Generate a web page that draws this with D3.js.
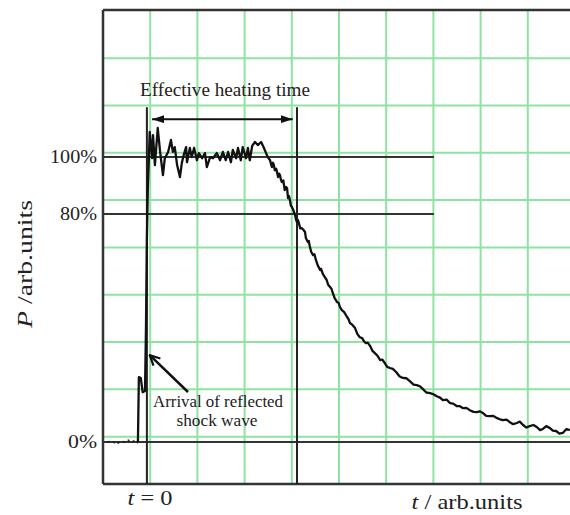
<!DOCTYPE html>
<html>
<head>
<meta charset="utf-8">
<script src="https://cdnjs.cloudflare.com/ajax/libs/d3/7.8.5/d3.min.js"></script>
<style>
  body { margin: 0; background: #fff; }
  text { font-family: "Liberation Serif", "DejaVu Serif", serif; fill: #222; }
</style>
</head>
<body>
<div id="chart"></div>
<script>
// pressure trace: t in arb. units (t = 0 at shock arrival), P in %
var preTime = [-0.85, -0.74, -0.64, -0.55, -0.47, -0.40, -0.34, -0.28, -0.21, -0.19];
var preP = [0, 0.4, -0.7, 0.4, 0, 0.7, -0.4, 0.4, -0.4, 0];

var traceTime = [-0.19, -0.17, -0.13, -0.09, -0.04, -0.02, 0, 0.02, 0.06,
  0.11, 0.13, 0.17, 0.23, 0.28, 0.34, 0.38, 0.45, 0.51, 0.55, 0.59, 0.64, 0.70, 0.74, 0.78, 0.83, 0.85,
  0.91, 0.95, 1.00, 1.06, 1.10, 1.17, 1.23, 1.27, 1.34, 1.40, 1.48, 1.55, 1.61, 1.67, 1.72, 1.78, 1.82,
  1.89, 1.93, 1.99, 2.03, 2.10, 2.14, 2.18, 2.23, 2.29, 2.35, 2.42, 2.48, 2.56,
  2.61, 2.63, 2.65, 2.67, 2.69, 2.71, 2.74, 2.78, 2.80, 2.82, 2.84, 2.86, 2.89, 2.92, 2.95, 2.97, 2.99,
  3.01, 3.03, 3.05, 3.07, 3.10, 3.14, 3.16, 3.18, 3.20, 3.22, 3.25, 3.28, 3.31, 3.35, 3.37, 3.41, 3.43,
  3.45, 3.48, 3.52, 3.55, 3.58, 3.62, 3.67, 3.69, 3.73, 3.77, 3.81, 3.84, 3.88, 3.91, 3.94, 3.98, 4.03,
  4.06, 4.09, 4.13, 4.18, 4.24, 4.27, 4.30, 4.35, 4.41, 4.46, 4.51, 4.56, 4.60, 4.64, 4.68, 4.73, 4.78,
  4.83, 4.88, 4.94, 4.99, 5.04, 5.09, 5.15, 5.21, 5.28, 5.35, 5.42, 5.50, 5.57, 5.65, 5.72, 5.78, 5.85,
  5.92, 6.00, 6.07, 6.14, 6.21, 6.27, 6.35, 6.42, 6.49, 6.57, 6.63, 6.70, 6.77, 6.84, 6.92, 6.99, 7.05,
  7.12, 7.19, 7.27, 7.34, 7.42, 7.48, 7.54, 7.62, 7.69, 7.76, 7.84, 7.90, 7.97, 8.04, 8.11, 8.19, 8.26,
  8.33, 8.39, 8.46, 8.54, 8.60, 8.67, 8.74, 8.81, 8.89, 8.96];
var traceP = [0, 22.8, 22.5, 17.5, 17.9, 39.3, 70.9, 89.1, 108.8,
  99.6, 107.7, 97.2, 110.2, 101.8, 93.7, 99.6, 101.8, 106.0, 101.8, 103.5, 97.2, 93.0, 97.9, 100.7, 103.5, 98.2,
  103.2, 100.0, 103.2, 98.9, 101.4, 99.6, 101.4, 96.5, 100.0, 99.6, 101.4, 98.9, 101.8, 98.9, 101.8, 98.2, 102.5,
  99.6, 103.2, 98.9, 103.5, 99.6, 103.2, 98.9, 103.9, 105.3, 104.2, 105.3, 103.2, 100.0,
  98.9, 97.5, 96.5, 98.0, 97.2, 95.4, 95.9, 93.0, 94.2, 93.7, 92.0, 91.2, 91.8, 88.4, 89.5, 89.1, 85.6,
  86.3, 84.9, 83.0, 82.5, 81.5, 79.6, 78.0, 77.2, 77.9, 76.8, 75.0, 75.1, 74.6, 73.7, 71.5, 70.2, 70.6,
  68.8, 66.8, 65.6, 65.9, 63.9, 62.0, 60.4, 60.8, 58.9, 57.9, 56.8, 55.2, 54.4, 53.8, 52.3, 50.4, 49.1,
  48.9, 47.4, 46.3, 45.6, 43.9, 43.2, 41.8, 41.2, 40.0, 37.9, 36.8, 36.5, 35.4, 34.7, 34.9, 33.7, 32.0,
  31.2, 30.4, 28.8, 28.9, 27.7, 26.4, 26.0, 25.7, 24.6, 23.1, 22.5, 22.4, 21.4, 20.2, 20.0, 19.6, 18.6,
  17.4, 17.2, 16.8, 16.1, 15.6, 14.7, 14.9, 13.7, 13.5, 12.6, 12.6, 11.9, 12.0, 11.2, 10.6, 10.5, 10.8,
  10.2, 9.2, 9.1, 9.2, 8.4, 8.0, 7.7, 7.9, 7.0, 6.3, 6.7, 7.2, 6.0, 5.1, 5.6, 6.0, 5.3,
  4.2, 4.6, 5.6, 4.9, 4.0, 3.9, 3.0, 3.2, 4.6, 4.2];

// green paper grid
var gridTime = [0.07, 1.07, 2.07, 3.07, 4.07, 5.07, 6.07, 7.07, 8.07];
var gridP = [134.7, 118.1, 101.5, 84.9, 68.3, 51.7, 35.1, 18.5, 1.9];

// black reference levels
var levelP = [100, 80, 0];
var levelLabels = ["100%", "80%", "0%"];
var levelEnd = [6.08, 6.08, 9.07];

// heating window
var heatStart = 0, heatEnd = 3.18;

var width = 570,
  height = 515;

var svg = d3.select("#chart").append("svg")
  .attr("width", width)
  .attr("height", height);

var x = d3.scaleLinear().domain([-0.93, 9.07]).range([103, 575]);
var y = d3.scaleLinear().domain([-14.7, 151.6]).range([484, 10]);

var defs = svg.append("defs");
defs.append("marker")
  .attr("id", "solidHead")
  .attr("viewBox", "0 0 12 8")
  .attr("refX", 12).attr("refY", 4)
  .attr("markerWidth", 12).attr("markerHeight", 8)
  .attr("markerUnits", "userSpaceOnUse")
  .attr("orient", "auto-start-reverse")
  .append("path")
  .attr("d", "M0,0 L12,4 L0,8 Z")
  .attr("fill", "#111");
defs.append("marker")
  .attr("id", "openHead")
  .attr("viewBox", "0 0 12 12")
  .attr("refX", 11).attr("refY", 6)
  .attr("markerWidth", 12).attr("markerHeight", 12)
  .attr("markerUnits", "userSpaceOnUse")
  .attr("orient", "auto")
  .append("path")
  .attr("d", "M1,1 L11,6 L1,11")
  .attr("fill", "none")
  .attr("stroke", "#111")
  .attr("stroke-width", 2.2);

// grid
svg.append("g").selectAll("line")
  .data(gridTime)
  .enter().append("line")
  .attr("x1", d => x(d)).attr("x2", d => x(d))
  .attr("y1", y(151.6)).attr("y2", y(-14.7))
  .attr("stroke", "#8fe3a2")
  .attr("stroke-width", 2);
svg.append("g").selectAll("line")
  .data(gridP)
  .enter().append("line")
  .attr("x1", x(-0.93)).attr("x2", width)
  .attr("y1", d => y(d)).attr("y2", d => y(d))
  .attr("stroke", "#8fe3a2")
  .attr("stroke-width", 2);

// frame (left, top, bottom)
var frame = svg.append("g").attr("stroke", "#333").attr("stroke-width", 2.5);
frame.append("line").attr("x1", x(-0.93)).attr("x2", x(-0.93)).attr("y1", y(151.6)).attr("y2", y(-14.7));
frame.append("line").attr("x1", x(-0.93)).attr("x2", width).attr("y1", y(151.6)).attr("y2", y(151.6));
frame.append("line").attr("x1", x(-0.93)).attr("x2", width).attr("y1", y(-14.7)).attr("y2", y(-14.7));

// level lines + labels
svg.append("g").selectAll("line")
  .data(levelP)
  .enter().append("line")
  .attr("x1", x(-0.93))
  .attr("x2", (d, i) => x(levelEnd[i]))
  .attr("y1", d => y(d)).attr("y2", d => y(d))
  .attr("stroke", "#333")
  .attr("stroke-width", 2);
var labelWidth = [47, 37, 29];
svg.append("g").selectAll("text")
  .data(levelP)
  .enter().append("text")
  .attr("x", 97)
  .attr("y", d => y(d) + 6)
  .attr("text-anchor", "end")
  .attr("textLength", (d, i) => labelWidth[i])
  .attr("lengthAdjust", "spacingAndGlyphs")
  .style("font-size", "18px")
  .text((d, i) => levelLabels[i]);

// heating window markers
svg.append("g").selectAll("line")
  .data([heatStart, heatEnd])
  .enter().append("line")
  .attr("x1", d => x(d)).attr("x2", d => x(d))
  .attr("y1", y(117.5)).attr("y2", y(-14.7))
  .attr("stroke", "#222")
  .attr("stroke-width", 2);

svg.append("line")
  .attr("x1", x(heatStart + 0.11)).attr("x2", x(heatEnd - 0.09))
  .attr("y1", y(113.3)).attr("y2", y(113.3))
  .attr("stroke", "#111")
  .attr("stroke-width", 2)
  .attr("marker-start", "url(#solidHead)")
  .attr("marker-end", "url(#solidHead)");

svg.append("text")
  .attr("x", 225).attr("y", 96)
  .attr("text-anchor", "middle")
  .attr("textLength", 170)
  .attr("lengthAdjust", "spacingAndGlyphs")
  .style("font-size", "19px")
  .text("Effective heating time");

// trace
var line = d3.line()
  .x(d => x(d[0]))
  .y(d => y(d[1]));

svg.append("path")
  .datum(d3.zip(preTime, preP))
  .attr("d", line)
  .attr("fill", "none")
  .attr("stroke", "#222")
  .attr("stroke-width", 1.6)
  .attr("stroke-dasharray", "3,3");

svg.append("path")
  .datum(d3.zip(traceTime, traceP))
  .attr("d", line)
  .attr("fill", "none")
  .attr("stroke", "#111")
  .attr("stroke-width", 2.3)
  .attr("stroke-linejoin", "round");

// arrival annotation
svg.append("line")
  .attr("x1", 188).attr("y1", 392)
  .attr("x2", x(0.06)).attr("y2", y(30.5))
  .attr("stroke", "#111")
  .attr("stroke-width", 2.5)
  .attr("marker-end", "url(#openHead)");
svg.append("text")
  .attr("x", 218).attr("y", 407)
  .attr("text-anchor", "middle")
  .attr("textLength", 130)
  .attr("lengthAdjust", "spacingAndGlyphs")
  .style("font-size", "16px")
  .text("Arrival of reflected");
svg.append("text")
  .attr("x", 217).attr("y", 426)
  .attr("text-anchor", "middle")
  .attr("textLength", 81)
  .attr("lengthAdjust", "spacingAndGlyphs")
  .style("font-size", "16px")
  .text("shock wave");

// axis titles
svg.append("text")
  .attr("x", 150).attr("y", 505)
  .attr("text-anchor", "middle")
  .attr("textLength", 45)
  .attr("lengthAdjust", "spacingAndGlyphs")
  .style("font-size", "21px")
  .html('<tspan font-style="italic">t</tspan> = 0');

svg.append("text")
  .attr("x", 467).attr("y", 509)
  .attr("text-anchor", "middle")
  .attr("textLength", 111)
  .attr("lengthAdjust", "spacingAndGlyphs")
  .style("font-size", "22px")
  .html('<tspan font-style="italic">t</tspan> / arb.units');

svg.append("text")
  .attr("transform", "translate(32,264) rotate(-90)")
  .attr("text-anchor", "middle")
  .attr("textLength", 128)
  .attr("lengthAdjust", "spacingAndGlyphs")
  .style("font-size", "21px")
  .html('<tspan font-style="italic">P</tspan> /arb.units');
</script>
</body>
</html>
